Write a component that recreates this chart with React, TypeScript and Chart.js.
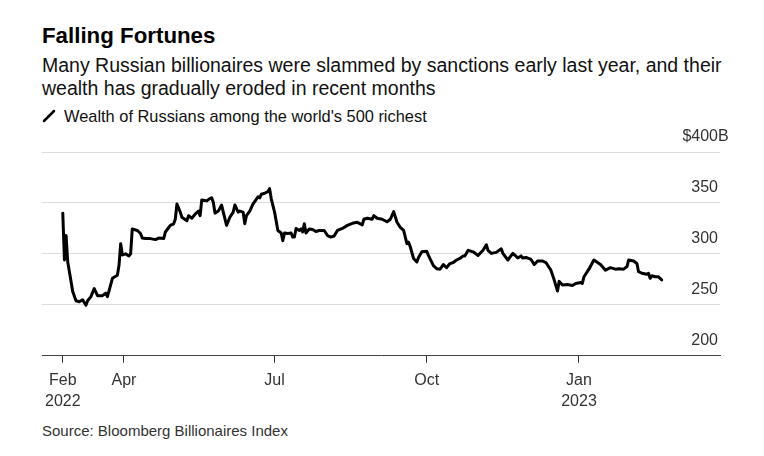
import React, { useEffect, useRef } from "react";
import { Chart, registerables } from "chart.js";

Chart.register(...registerables);

// Days since 2022-01-01 for each observation
const days = [
  53, 54, 55, 56, 58, 59, 61, 63, 65, 67,
  68, 70, 72, 74, 77, 79, 80, 83, 86, 87,
  88, 89, 91, 93, 94, 95, 98, 100, 101, 103,
  106, 109, 111, 114, 115, 118, 120, 121, 122, 124,
  125, 128, 129, 131, 133, 135, 136, 137, 140, 142,
  143, 144, 145, 147, 149, 150, 152, 154, 156, 157,
  159, 160, 162, 163, 164, 166, 168, 171, 172, 173,
  175, 177, 178, 179, 181, 183, 185, 186, 187, 189,
  191, 192, 193, 194, 196, 197, 198, 199, 200, 202,
  204, 206, 208, 211, 213, 215, 217, 219, 222, 225,
  228, 231, 234, 235, 237, 240, 241, 243, 246, 249,
  251, 253, 255, 257, 259, 261, 262, 263, 265, 267,
  268, 270, 273, 274, 277, 279, 281, 283, 285, 287,
  289, 291, 293, 295, 296, 298, 301, 304, 307, 309,
  310, 312, 315, 318, 319, 322, 325, 328, 330, 331,
  333, 336, 338, 340, 343, 345, 348, 350, 352, 353,
  355, 358, 361, 363, 366, 367, 368, 371, 374, 378,
  381, 384, 387, 389, 392, 394, 395, 398, 400, 401,
  403, 406, 407, 408, 409, 411, 413, 415,
];

// Wealth, $ billions
const wealth = [
  340, 294, 318, 292, 273, 263, 254, 253, 255, 249.5,
  254, 258, 266, 259, 259, 261.5, 258, 276, 279, 289,
  310, 299, 300, 298, 300, 324.5, 323, 320, 315.5, 315,
  315, 314, 315.5, 315, 321.5, 328, 329.5, 334, 349, 341,
  336, 332.5, 337.5, 335, 339, 342, 337.5, 353, 352, 354.5,
  355, 350.5, 340, 342, 348, 341, 328, 336, 341, 348,
  341, 342, 341, 329.5, 337.5, 342, 349, 356, 355, 358.5,
  359.5, 361, 364, 354, 341, 323, 320.5, 313, 320.5, 320,
  320.5, 316.5, 316.5, 325, 323, 324.5, 321.5, 329.5, 320.5, 324.5,
  324, 322, 323, 323, 318, 316.5, 317.5, 323, 325, 328,
  330, 331, 328.5, 334, 335, 334, 337.5, 335, 334, 331.5,
  334, 341.5, 331, 326, 323, 310, 311.5, 307, 295.5, 292,
  296.5, 302, 302.5, 298.5, 288.5, 285.5, 285, 289.5, 286.5, 290.5,
  291.5, 294, 295.5, 298, 298, 303.5, 302, 298.5, 303.5, 309,
  303.5, 300.5, 301.5, 305, 300.5, 294, 300.5, 296, 298, 296,
  296.5, 294.5, 289.5, 293, 293, 291.5, 284, 274.5, 263.5, 273,
  269.5, 270, 269, 271, 272, 271, 277.5, 285, 294, 289.5,
  284, 286.5, 285, 285.5, 285, 287.5, 294, 293, 290.5, 282.5,
  281, 280, 281, 276, 278.5, 277.5, 277.5, 274.5,
];

const xTickDays = [53, 90, 181, 273, 365];
const xTickLabels = [["Feb", "2022"], ["Apr"], ["Jul"], ["Oct"], ["Jan", "2023"]];
const yTickValues = [200, 250, 300, 350, 400];

const FONT = "'Liberation Sans', Arial, Helvetica, sans-serif";

const yLabelPlugin = {
  id: "yLabels",
  afterDraw(chart: any) {
    const { ctx, chartArea, scales } = chart;
    const y = scales.y;
    ctx.save();
    ctx.font = `16px ${FONT}`;
    ctx.fillStyle = "#333";
    ctx.textBaseline = "middle";
    const xr = chartArea.right - 2;
    yTickValues.forEach((v, i) => {
      const py = y.getPixelForValue(v) - 15;
      ctx.textAlign = "right";
      const isTop = i === yTickValues.length - 1;
      ctx.fillText(isTop ? `$${v}` : `${v}`, xr, py);
      if (isTop) {
        ctx.textAlign = "left";
        ctx.fillText("B", xr, py);
      }
    });
    ctx.restore();
  },
};

export default function App() {
  const ref = useRef<HTMLCanvasElement>(null);

  useEffect(() => {
    if (!ref.current) return;
    const chart = new Chart(ref.current, {
      type: "line",
      data: {
        datasets: [
          {
            data: days.map((d, i) => ({ x: d, y: wealth[i] })),
            borderColor: "#000",
            borderWidth: 3,
            pointRadius: 0,
            tension: 0,
            borderJoinStyle: "round",
            borderCapStyle: "round",
          },
        ],
      },
      options: {
        animation: false,
        responsive: false,
        devicePixelRatio: 1,
        layout: { padding: { left: 42, right: 44, top: 27, bottom: 0 } },
        plugins: { legend: { display: false }, tooltip: { enabled: false } },
        scales: {
          x: {
            type: "linear",
            min: 40.44,
            max: 450.22,
            afterBuildTicks: (scale: any) => {
              scale.ticks = xTickDays.map((v) => ({ value: v }));
            },
            grid: {
              display: true,
              drawOnChartArea: false,
              drawTicks: true,
              tickLength: 7,
              tickColor: "#333",
            },
            border: { display: true, color: "#444", width: 1 },
            ticks: {
              autoSkip: false,
              maxRotation: 0,
              padding: 7,
              color: "#333",
              font: { family: FONT, size: 16, lineHeight: 1.32 },
              callback: (value: any) => {
                const i = xTickDays.indexOf(Number(value));
                return i >= 0 ? xTickLabels[i] : "";
              },
            },
          },
          y: {
            position: "right",
            min: 200,
            max: 400,
            afterBuildTicks: (scale: any) => {
              scale.ticks = yTickValues.map((v) => ({ value: v }));
            },
            grid: {
              color: (c: any) => (c.tick && c.tick.value === 200 ? "rgba(0,0,0,0)" : "#dcdcdc"),
              drawTicks: false,
              lineWidth: 1,
            },
            border: { display: false },
            ticks: { display: false },
          },
        },
      },
      plugins: [yLabelPlugin],
    } as any);
    return () => chart.destroy();
  }, []);

  const base: React.CSSProperties = {
    position: "absolute",
    left: 42,
    fontFamily: FONT,
    color: "#000",
    whiteSpace: "nowrap",
    margin: 0,
  };

  return (
    <div style={{ position: "absolute", left: 0, top: 0, width: 764, height: 456, background: "#fff", overflow: "hidden" }}>
      <div style={{ ...base, top: 23, fontSize: 22.3, fontWeight: 700, lineHeight: "26px" }}>Falling Fortunes</div>
      <div style={{ ...base, top: 53.5, fontSize: 19.5, lineHeight: "23px", color: "#111" }}>
        Many Russian billionaires were slammed by sanctions early last year, and their
        <br />
        wealth has gradually eroded in recent months
      </div>
      <div style={{ ...base, top: 106, fontSize: 16.4, lineHeight: "20px", display: "flex", alignItems: "center", color: "#111" }}>
        <svg width="14" height="14" style={{ marginRight: 8 }}>
          <line x1="2" y1="12" x2="12" y2="2" stroke="#000" strokeWidth="2.5" strokeLinecap="round" />
        </svg>
        Wealth of Russians among the world's 500 richest
      </div>
      <canvas
        ref={ref}
        width={764}
        height={294}
        style={{ position: "absolute", left: 0, top: 125, width: 764, height: 294 }}
      />
      <div style={{ ...base, top: 422, fontSize: 15, lineHeight: "18px", color: "#333" }}>
        Source: Bloomberg Billionaires Index
      </div>
    </div>
  );
}
